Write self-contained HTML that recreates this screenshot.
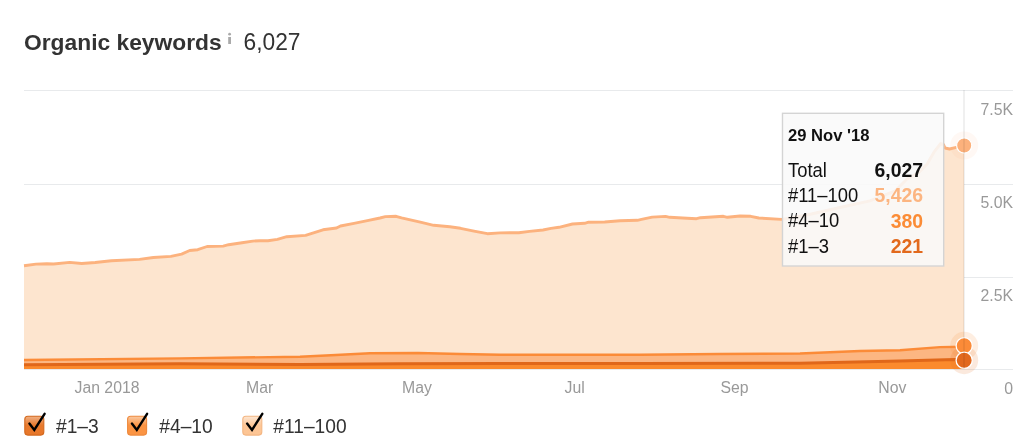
<!DOCTYPE html>
<html><head><meta charset="utf-8"><style>
html,body{margin:0;padding:0;background:#fff;width:1030px;height:447px;overflow:hidden}
svg{position:absolute;left:0;top:0;will-change:transform}
text{font-family:"Liberation Sans",sans-serif;}
</style></head><body>
<svg width="1030" height="447" viewBox="0 0 1030 447">
<text x="24" y="50" font-size="22.8" font-weight="bold" fill="#333">Organic keywords</text>
<circle cx="229.6" cy="34.2" r="1.4" fill="#aaa"/><rect x="228.2" y="37" width="2.8" height="7" fill="#aaa"/>
<text x="243.5" y="50" transform="matrix(1,0,0,1.0250,0,-1.250)" font-size="22.8" fill="#333">6,027</text>
<g fill="none" stroke="#e8eaec" stroke-width="1">
<line x1="24" y1="90.5" x2="1013" y2="90.5"/>
<line x1="24" y1="184.5" x2="1013" y2="184.5"/>
<line x1="24" y1="277.5" x2="1013" y2="277.5"/>
<line x1="24" y1="369.5" x2="1013" y2="369.5"/>
</g>
<g font-size="15.8" fill="#999" text-anchor="end">
<text x="1013" y="115">7.5K</text>
<text x="1013" y="208">5.0K</text>
<text x="1013" y="300.5">2.5K</text>
<text x="1013" y="393.5">0</text>
</g>
<g font-size="15.8" fill="#999" text-anchor="middle">
<text x="107" y="393">Jan 2018</text>
<text x="259.6" y="393">Mar</text>
<text x="417" y="393">May</text>
<text x="574.7" y="393">Jul</text>
<text x="734.6" y="393">Sep</text>
<text x="892.4" y="393">Nov</text>
</g>
<path d="M24.0,265.7 L36.0,264.1 L46.8,263.7 L53.6,264.0 L69.7,262.4 L81.7,263.5 L95.2,262.5 L111.3,260.8 L139.5,259.4 L153.4,257.5 L170.9,256.4 L181.6,254.1 L189.7,250.5 L197.7,249.7 L207.1,246.5 L223.2,246.1 L228.6,244.7 L242.0,242.7 L252.8,241.1 L260.0,240.7 L268.0,240.8 L277.4,239.4 L286.8,236.7 L305.6,235.4 L323.0,229.8 L336.5,228.0 L340.5,226.0 L354.0,223.3 L367.4,220.6 L380.0,218.0 L385.4,216.6 L396.1,216.3 L401.5,217.9 L420.3,222.2 L433.7,225.3 L449.8,226.7 L460.5,228.3 L474.0,231.1 L487.4,233.7 L500.0,232.9 L518.8,232.7 L529.5,231.4 L543.0,230.0 L551.0,228.4 L559.0,227.3 L572.5,224.0 L584.6,223.3 L588.6,222.2 L604.7,222.0 L620.0,220.7 L637.4,220.3 L641.5,219.4 L652.2,217.1 L665.6,216.4 L669.7,217.3 L687.1,218.3 L696.5,218.7 L700.5,217.7 L723.4,216.3 L727.4,217.3 L740.0,216.0 L750.7,216.3 L758.8,218.0 L781.6,219.4 L807.0,215.0 L824.7,211.0 L840.0,207.5 L870.0,200.9 L895.4,190.8 L907.0,179.1 L918.9,172.4 L927.2,164.0 L934.0,152.2 L940.7,143.5 L943.5,144.7 L945.0,148.0 L949.5,149.0 L956.3,147.3 L964.0,146.0 L964.0,369 L24.0,369 Z" fill="#fde5cf"/>
<path d="M24.0,265.7 L36.0,264.1 L46.8,263.7 L53.6,264.0 L69.7,262.4 L81.7,263.5 L95.2,262.5 L111.3,260.8 L139.5,259.4 L153.4,257.5 L170.9,256.4 L181.6,254.1 L189.7,250.5 L197.7,249.7 L207.1,246.5 L223.2,246.1 L228.6,244.7 L242.0,242.7 L252.8,241.1 L260.0,240.7 L268.0,240.8 L277.4,239.4 L286.8,236.7 L305.6,235.4 L323.0,229.8 L336.5,228.0 L340.5,226.0 L354.0,223.3 L367.4,220.6 L380.0,218.0 L385.4,216.6 L396.1,216.3 L401.5,217.9 L420.3,222.2 L433.7,225.3 L449.8,226.7 L460.5,228.3 L474.0,231.1 L487.4,233.7 L500.0,232.9 L518.8,232.7 L529.5,231.4 L543.0,230.0 L551.0,228.4 L559.0,227.3 L572.5,224.0 L584.6,223.3 L588.6,222.2 L604.7,222.0 L620.0,220.7 L637.4,220.3 L641.5,219.4 L652.2,217.1 L665.6,216.4 L669.7,217.3 L687.1,218.3 L696.5,218.7 L700.5,217.7 L723.4,216.3 L727.4,217.3 L740.0,216.0 L750.7,216.3 L758.8,218.0 L781.6,219.4 L807.0,215.0 L824.7,211.0 L840.0,207.5 L870.0,200.9 L895.4,190.8 L907.0,179.1 L918.9,172.4 L927.2,164.0 L934.0,152.2 L940.7,143.5 L943.5,144.7 L945.0,148.0 L949.5,149.0 L956.3,147.3 L964.0,146.0" fill="none" stroke="#fcb27e" stroke-width="2.9" stroke-linejoin="round"/>
<path d="M24.0,360.0 L180.0,358.4 L300.0,356.7 L331.0,355.3 L370.0,353.3 L418.0,353.0 L460.0,354.0 L500.0,354.7 L560.0,354.8 L640.0,354.8 L720.0,354.0 L800.0,353.5 L860.0,351.0 L900.0,350.3 L940.0,347.1 L964.0,346.7 L964.0,369 L24.0,369 Z" fill="#fcb682"/>
<path d="M24.0,360.0 L180.0,358.4 L300.0,356.7 L331.0,355.3 L370.0,353.3 L418.0,353.0 L460.0,354.0 L500.0,354.7 L560.0,354.8 L640.0,354.8 L720.0,354.0 L800.0,353.5 L860.0,351.0 L900.0,350.3 L940.0,347.1 L964.0,346.7" fill="none" stroke="#fb8b38" stroke-width="2.4" stroke-linejoin="round"/>
<path d="M24.0,364.7 L180.0,363.8 L300.0,364.5 L400.0,363.7 L500.0,363.5 L640.0,363.5 L800.0,363.3 L900.0,360.9 L955.0,359.6 L964.0,359.8 L964.0,369 L24.0,369 Z" fill="#fb8a2d"/>
<path d="M24.0,364.7 L180.0,363.8 L300.0,364.5 L400.0,363.7 L500.0,363.5 L640.0,363.5 L800.0,363.3 L900.0,360.9 L955.0,359.6 L964.0,359.8" fill="none" stroke="#e0671a" stroke-width="3" stroke-linejoin="round"/>
<!-- tooltip -->
<rect x="782.5" y="113.3" width="161.2" height="152.7" fill="#f9f9f9" fill-opacity="0.88" stroke="#d4d4d4" stroke-width="1.4"/>
<text x="788" y="141" font-size="16.6" font-weight="bold" fill="#111">29 Nov '18</text>
<g font-size="18.4" fill="#111">
<text x="788" y="177" transform="matrix(1,0,0,1.0600,0,-10.620)">Total</text>
<text x="788" y="202" transform="matrix(1,0,0,1.0600,0,-12.120)">#11–100</text>
<text x="788" y="227.5" transform="matrix(1,0,0,1.0600,0,-13.650)">#4–10</text>
<text x="788" y="253" transform="matrix(1,0,0,1.0600,0,-15.180)">#1–3</text>
</g>
<g font-size="19.4" font-weight="bold" text-anchor="end">
<text x="923" y="177" fill="#111">6,027</text>
<text x="923" y="202" fill="#fcb581">5,426</text>
<text x="923" y="227.5" fill="#fb8c36">380</text>
<text x="923" y="253" fill="#e2691c">221</text>
</g>
<!-- crosshair + dots -->
<circle cx="964.2" cy="145.5" r="14" fill="#fcb682" fill-opacity="0.09"/>
<circle cx="964.2" cy="145.5" r="7.6" fill="#fcb17c" stroke="#fff" stroke-width="1.2"/>
<circle cx="964.2" cy="345.8" r="14" fill="#fb8b38" fill-opacity="0.15"/>
<circle cx="964.2" cy="360.2" r="14" fill="#e2691e" fill-opacity="0.15"/>
<circle cx="964.2" cy="345.8" r="8.1" fill="#fb8b38" stroke="#fff" stroke-width="1.3"/>
<circle cx="964.2" cy="360.2" r="8.1" fill="#e2691e" stroke="#fff" stroke-width="1.3"/>
<line x1="964" y1="90" x2="964" y2="369" stroke="#000" stroke-opacity="0.12" stroke-width="1"/>
<!-- legend -->
<defs>
<linearGradient id="g1" x1="0" y1="0" x2="0" y2="1"><stop offset="0" stop-color="#f0b084"/><stop offset="0.48" stop-color="#e8792c"/><stop offset="1" stop-color="#e7772a"/></linearGradient>
<linearGradient id="g2" x1="0" y1="0" x2="0" y2="1"><stop offset="0" stop-color="#fac9a2"/><stop offset="0.48" stop-color="#fb9443"/><stop offset="1" stop-color="#fb9443"/></linearGradient>
<linearGradient id="g3" x1="0" y1="0" x2="0" y2="1"><stop offset="0" stop-color="#fde6d2"/><stop offset="0.48" stop-color="#fdc696"/><stop offset="1" stop-color="#fdc594"/></linearGradient>
</defs>
<rect x="24.8" y="416.3" width="19" height="18.8" rx="3" fill="url(#g1)" stroke="#d4681c" stroke-width="1.1"/>
<rect x="127.6" y="416.3" width="19" height="18.8" rx="3" fill="url(#g2)" stroke="#ee8a3e" stroke-width="1.1"/>
<rect x="242.8" y="416.3" width="19" height="18.8" rx="3" fill="url(#g3)" stroke="#f4b682" stroke-width="1.1"/>
<g fill="none" stroke="#000" stroke-width="2.4" stroke-linecap="round" stroke-linejoin="miter">
<path d="M29.4,423.6 L34.3,430 L44.6,413.8"/>
<path d="M131.9,423.6 L136.8,430 L147.1,413.8"/>
<path d="M247.1,423.6 L252,430 L262.3,413.8"/>
</g>
<g font-size="19.2" fill="#333">
<text x="56" y="433" transform="matrix(1,0,0,1.1000,0,-43.300)">#1–3</text>
<text x="159.3" y="433" transform="matrix(1,0,0,1.1000,0,-43.300)">#4–10</text>
<text x="273.3" y="433" transform="matrix(1,0,0,1.1000,0,-43.300)">#11–100</text>
</g>
</svg>
</body></html>
